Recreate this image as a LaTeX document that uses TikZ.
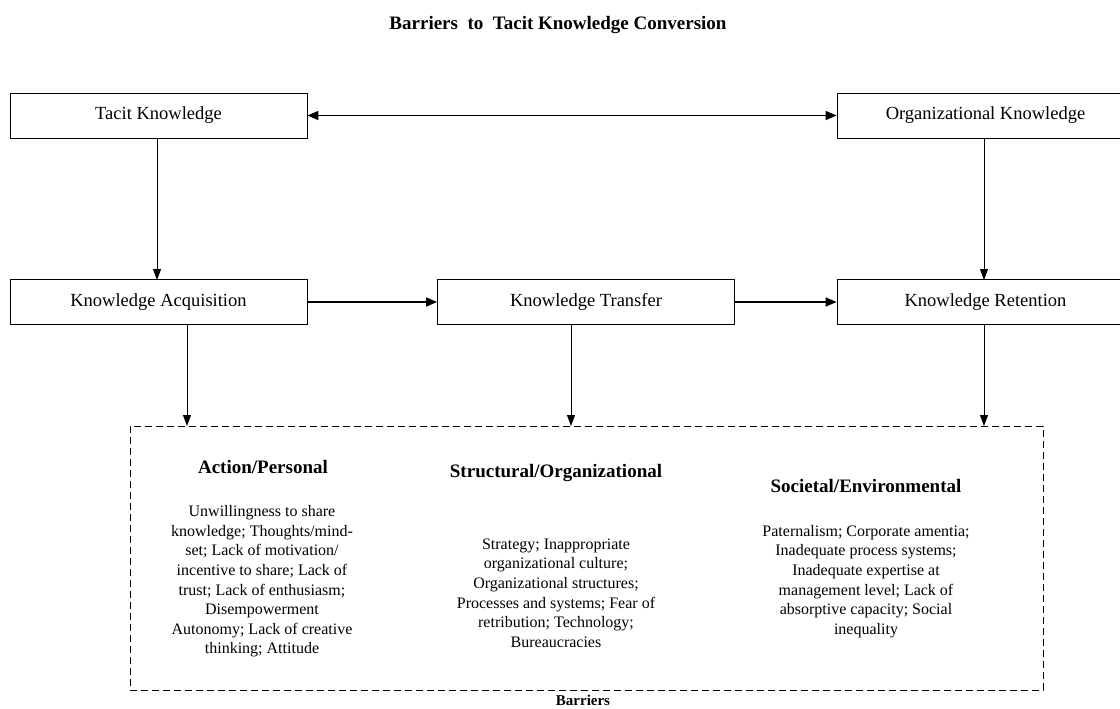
\documentclass[tikz,border=0pt]{standalone}
\usepackage{fontspec}
\setmainfont{Liberation Serif}
\usetikzlibrary{arrows.meta}
\begin{document}
\begin{tikzpicture}[x=1pt,y=-1pt,
  stage/.style={draw, line width=0.8pt, minimum width=297pt, minimum height=45pt,
    inner sep=0pt, font=\fontsize{18.5}{20}\selectfont},
  flow/.style={line width=1.6pt, -{Triangle[length=11pt,width=9pt]}},
  drop/.style={line width=0.8pt, -{Triangle[length=11pt,width=8pt]}},
  head/.style={font=\bfseries\fontsize{19}{22}\selectfont},
  body/.style={align=center, font=\fontsize{16}{19.6}\selectfont, inner sep=0pt}]
\useasboundingbox (0,0) rectangle (1120,709);
\clip (0,0) rectangle (1120,709);

\node[font=\bfseries\fontsize{19}{22}\selectfont] (title) at (558,25) {Barriers\ \ to\ \ Tacit Knowledge Conversion};

% upper row
\node[stage] (tacit) at (158.5,115.5) {Tacit Knowledge};
\node[stage] (org) at (985.5,115.5) {Organizational Knowledge};

% middle row
\node[stage] (acq) at (158.5,302) {Knowledge Acquisition};
\node[stage] (trans) at (586,302) {Knowledge Transfer};
\node[stage] (ret) at (985.5,302) {Knowledge Retention};

% barrier panel
\node[draw, dash pattern=on 7pt off 4pt, line width=0.8pt,
  minimum width=913pt, minimum height=264pt, inner sep=0pt] (panel) at (586.5,558) {};
\node[font=\bfseries\fontsize{15}{18}\selectfont, inner sep=0pt] (plabel) at (583,700) {Barriers};

\coordinate (p1) at (187,426);
\coordinate (p2) at (571,426);
\coordinate (p3) at (984,426);
\coordinate (q1) at (157,280);
\coordinate (q3) at (984,280);

% connectors
\draw[line width=1.6pt, {Triangle[length=11pt,width=9pt]}-{Triangle[length=11pt,width=9pt]}] (tacit.east) -- (org.west);
\draw[drop] (tacit.south -| q1) -- (q1);
\draw[drop] (org.south -| q3) -- (q3);
\draw[flow] (acq.east) -- (trans.west);
\draw[flow] (trans.east) -- (ret.west);
\draw[drop] (acq.south -| p1) -- (p1);
\draw[drop] (trans.south -| p2) -- (p2);
\draw[drop] (ret.south -| p3) -- (p3);

% barrier categories
\node[head] (h1) at (263,467) {Action/Personal};
\node[head] (h2) at (556,473) {Structural/Organizational};
\node[head] (h3) at (866,486) {Societal/Environmental};

\node[body] (b1) at (262,581.5) {Unwillingness to share\\ knowledge; Thoughts/mind-\\ set; Lack of motivation/\\ incentive to share; Lack of\\ trust; Lack of enthusiasm;\\ Disempowerment\\ Autonomy; Lack of creative\\ thinking; Attitude};
\node[body] (b2) at (556,593) {Strategy; Inappropriate\\ organizational culture;\\ Organizational structures;\\ Processes and systems; Fear of\\ retribution; Technology;\\ Bureaucracies};
\node[body] (b3) at (866,581.5) {Paternalism; Corporate amentia;\\ Inadequate process systems;\\ Inadequate expertise at\\ management level; Lack of\\ absorptive capacity; Social\\ inequality};
\end{tikzpicture}
\end{document}
